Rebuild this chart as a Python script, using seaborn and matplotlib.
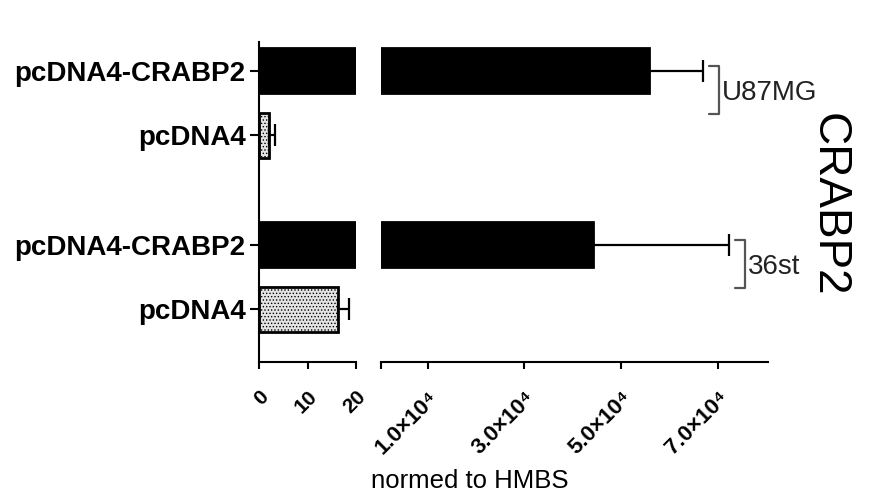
import numpy as np
import pandas as pd
import seaborn as sns
import matplotlib.pyplot as plt

# values (expression normed to HMBS)
cell_lines = ['U87MG', '36st']
constructs = ['pcDNA4-CRABP2', 'pcDNA4']
crabp2_mean = [55800, 44100]
crabp2_err = [11100, 28300]
empty_mean = [2.1, 16.3]
empty_err = [1.3, 2.3]

left_ticks = [0, 10, 20]
right_ticks = [10000, 30000, 50000, 70000]
right_labels = ['1.0×10⁴', '3.0×10⁴', '5.0×10⁴', '7.0×10⁴']

df = pd.DataFrame({
    'cell': cell_lines * 2,
    'construct': [constructs[0]] * 2 + [constructs[1]] * 2,
    'value': crabp2_mean + empty_mean,
    'err': crabp2_err + empty_err,
})

sns.set_style('ticks')
plt.rcParams['font.family'] = ['Liberation Sans', 'DejaVu Sans']
plt.rcParams['hatch.linewidth'] = 0.6
plt.rcParams['axes.linewidth'] = 1.5
plt.rcParams['text.color'] = 'black'
plt.rcParams['xtick.color'] = 'black'
plt.rcParams['ytick.color'] = 'black'
plt.rcParams['axes.edgecolor'] = 'black'

fig = plt.figure(figsize=(8.69, 4.94), dpi=100)
# broken x axis: two panels side by side
ax1 = fig.add_axes([259 / 869, 132 / 494, 97 / 869, 320 / 494])
ax2 = fig.add_axes([381 / 869, 132 / 494, 387 / 869, 320 / 494])

pal = {'pcDNA4-CRABP2': 'black', 'pcDNA4': '#e4e4e4'}
ylim = (1.4885, -0.3506)
xlims = [(0, 20), (300, 80400)]

yticks, ylabels = [], []
for ax, xl in zip((ax1, ax2), xlims):
    sns.barplot(data=df, x='value', y='cell', hue='construct', hue_order=constructs,
                order=cell_lines, orient='h', palette=pal, width=0.747, gap=0.31,
                edgecolor='black', linewidth=2, errorbar=None, legend=False, ax=ax)
    ax.set_xlim(*xl)
    ax.set_ylim(*ylim)
    for p in ax.patches:
        row = df.loc[np.isclose(df['value'], p.get_width())].iloc[0]
        yc = p.get_y() + p.get_height() / 2
        if row['construct'] == 'pcDNA4':
            p.set_hatch('.....')
        if ax is ax1:
            yticks.append(yc)
            ylabels.append(row['construct'])
        if row['value'] + row['err'] < xl[0]:
            # bar lives entirely in the other half of the broken axis
            p.set_visible(False)
            continue
        ax.errorbar(row['value'], yc, xerr=[[0], [row['err']]], fmt='none',
                    ecolor='black', elinewidth=1.6, capsize=8, capthick=1.6)
    ax.set_xlabel('')
    ax.set_ylabel('')
    ax.tick_params(axis='x', length=5, width=1.5, pad=13)

sns.despine(ax=ax1)
sns.despine(ax=ax2, left=True)

ax1.set_yticks(yticks, labels=ylabels, fontsize=20, fontweight='bold')
ax1.tick_params(axis='y', length=6.5, width=1.5, pad=3)
ax1.set_xticks(left_ticks, labels=[str(t) for t in left_ticks], rotation=45,
               ha='right', va='top', rotation_mode='anchor',
               fontsize=15, fontweight='bold')
ax2.tick_params(axis='y', left=False, labelleft=False)
ax2.set_xticks(right_ticks, labels=right_labels, rotation=45, ha='right',
               va='top', rotation_mode='anchor', fontsize=16, fontweight='bold')
ax2.set_xticks([ax2.get_xlim()[0]], minor=True)
ax2.tick_params(axis='x', which='minor', length=5, width=1.5)

# cell-line brackets next to the CRABP2 bars
x_per_px = (xlims[1][1] - xlims[1][0]) / ax2.bbox.width
for i, cell in enumerate(cell_lines):
    tip = crabp2_mean[i] + crabp2_err[i]
    xa = tip + 6 * x_per_px
    xb = tip + 16 * x_per_px
    ax2.plot([xa, xb, xb, xa], [i - 0.21, i - 0.21, i + 0.065, i + 0.065],
             color='#555555', lw=1.6, clip_on=False)
    ax2.text(xb + 3 * x_per_px, i - 0.06, cell, fontsize=20, color='#222222',
             ha='left', va='center', clip_on=False)

fig.text(470 / 869, 0.026, 'normed to HMBS', fontsize=18.5, ha='center', va='center')
fig.text(829 / 869, (494 - 205) / 494, 'CRABP2', fontsize=33, rotation=-90,
         ha='center', va='center')

fig.savefig('out.png', dpi=100)
